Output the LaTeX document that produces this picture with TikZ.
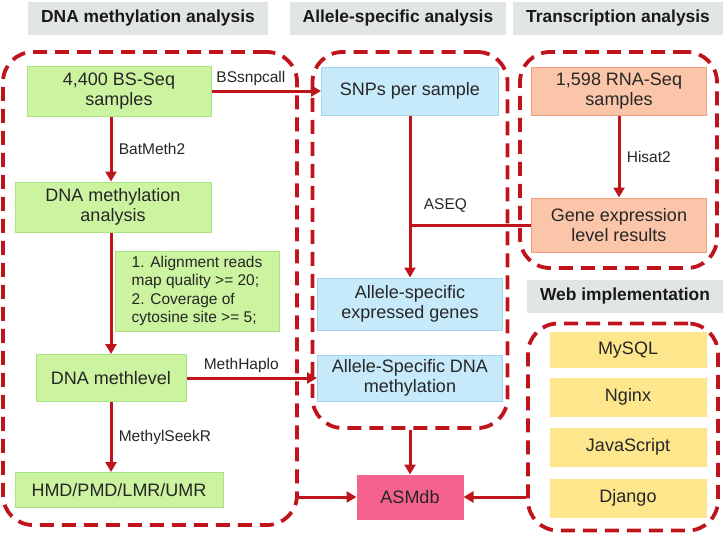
\documentclass[tikz,border=0pt]{standalone}
\usepackage{fontspec}
\setmainfont{Liberation Sans}
\usepackage{tikz}
\usetikzlibrary{arrows.meta, positioning}
\definecolor{darkred}{RGB}{192,20,28}
\definecolor{headgray}{RGB}{226,229,230}
\definecolor{methfill}{RGB}{204,243,160}
\definecolor{methline}{RGB}{170,228,130}
\definecolor{allelefill}{RGB}{198,234,250}
\definecolor{alleleline}{RGB}{160,214,240}
\definecolor{rnafill}{RGB}{251,197,170}
\definecolor{rnaline}{RGB}{240,160,120}
\definecolor{webfill}{RGB}{253,230,140}
\definecolor{dbfill}{RGB}{246,98,142}
\tikzset{
		box/.style={draw, line width=1pt, inner sep=0pt, align=center, text=black!85, font=\fontsize{18}{20.5}\selectfont},
		meth box/.style={box, draw=methline, fill=methfill},
		allele box/.style={box, draw=alleleline, fill=allelefill},
		rna box/.style={box, draw=rnaline, fill=rnafill},
		web box/.style={box, draw=webfill, fill=webfill, minimum width=156pt},
		db box/.style={box, draw=dbfill, fill=dbfill},
		header/.style={fill=headgray, inner sep=0pt, minimum height=33pt, text=black!90, font=\bfseries\fontsize{17.4}{20}\selectfont},
		group/.style={draw=darkred, line width=3.8pt, dash pattern=on 14pt off 8pt, rounded corners=30pt, inner sep=0pt},
		flow/.style={draw=darkred, line width=3pt, -{Triangle[length=10pt, width=11pt]}},
		plain flow/.style={draw=darkred, line width=3pt},
		tool/.style={font=\fontsize{15.5}{18}\selectfont, text=black!85}
	}
\begin{document}
\begin{tikzpicture}[x=1pt, y=-1pt]
				\useasboundingbox (0,0) rectangle (725,533);
				% section titles
				\node[header, minimum width=240pt] (hmeth)   at (148,18)  {DNA methylation analysis};
				\node[header, minimum width=216pt] (hallele) at (398,18)  {Allele-specific analysis};
				\node[header, minimum width=210pt] (htrans)  at (618,18)  {Transcription analysis};
				\node[header, minimum width=196pt] (hweb)    at (625,296) {Web implementation};
				
				% dashed groups
				\node[group, minimum width=294pt, minimum height=473pt] (methgroup)   at (150,288.5) {};
				\node[group, minimum width=195pt, minimum height=376pt] (allelegroup) at (410,240)   {};
				\node[group, minimum width=197pt, minimum height=216pt] (transgroup)  at (618.5,160) {};
				\node[group, minimum width=190pt, minimum height=207pt] (webgroup)    at (623,427)   {};
				
				% DNA methylation column
				\node[meth box, minimum width=184pt, minimum height=50pt] (bsseq)     at (119,91)  {4,400 BS-Seq\\samples};
				\node[meth box, minimum width=196pt, minimum height=50pt] (methana)   at (113,207) {DNA methylation\\analysis};
				\node[meth box, minimum width=164pt, minimum height=80pt, align=left, font=\fontsize{15.5}{18.5}\selectfont] (filter) at (197,291)
					{1. Alignment reads\\map quality >= 20;\\2. Coverage of\\cytosine site >= 5;};
				\node[meth box, minimum width=150pt, minimum height=47pt] (methlevel) at (111,378) {DNA methlevel};
				\node[meth box, minimum width=208pt, minimum height=35pt] (regions)   at (119,490) {HMD/PMD/LMR/UMR};
				
				% allele-specific column
				\node[allele box, minimum width=177pt, minimum height=48pt] (snps)    at (410,91)  {SNPs per sample};
				\node[allele box, minimum width=185pt, minimum height=52pt] (asegenes) at (410,304) {Allele-specific\\expressed genes};
				\node[allele box, minimum width=185pt, minimum height=46pt] (asmeth)  at (410,378) {Allele-Specific DNA\\methylation};
				
				% transcription column
				\node[rna box, minimum width=175pt, minimum height=48pt] (rnaseq)  at (619,91)  {1,598 RNA-Seq\\samples};
				\node[rna box, minimum width=175pt, minimum height=54pt] (geneexp) at (619,225) {Gene expression\\level results};
				
				% web stack
				\node[web box, minimum height=35pt] (mysql) at (628,350) {MySQL};
				\node[web box, minimum height=38pt] (nginx) [below of = mysql, node distance = 47pt] {Nginx};
				\node[web box, minimum height=38pt] (js)    [below of = nginx, node distance = 50pt] {JavaScript};
				\node[web box, minimum height=38pt] (django) [below of = js, node distance = 51pt] {Django};
				
				\node[db box, minimum width=106pt, minimum height=44pt] (asmdb) at (410,497) {ASMdb};
				
				% connectors
				\draw[flow] (bsseq) -- node[tool, above, pos=0.36] {BSsnpcall} (snps);
				\draw[flow] (bsseq.south -| methlevel) -- node[tool, right, xshift=3pt] {BatMeth2} (methana.north -| methlevel);
				\draw[flow] (methana.south -| methlevel) -- (methlevel);
				\draw[flow] (methlevel) -- node[tool, above, pos=0.42] {MethHaplo} (asmeth);
				\draw[flow] (methlevel) -- node[tool, right, xshift=3pt] {MethylSeekR} (regions.north -| methlevel);
				\draw[flow] (rnaseq) -- node[tool, right, xshift=3pt] {Hisat2} (geneexp);
				\coordinate (aseqjoin) at (snps |- geneexp);
				\draw[flow] (snps) -- (asegenes);
				\draw[plain flow] (geneexp) -- (aseqjoin) node[tool, anchor=south west, xshift=9pt, yshift=8pt] {ASEQ};
				\draw[flow] (allelegroup) -- (asmdb);
				\draw[flow] (methgroup.east |- asmdb) -- (asmdb);
				\draw[flow] (webgroup.west |- asmdb) -- (asmdb);
			\end{tikzpicture}
\end{document}
